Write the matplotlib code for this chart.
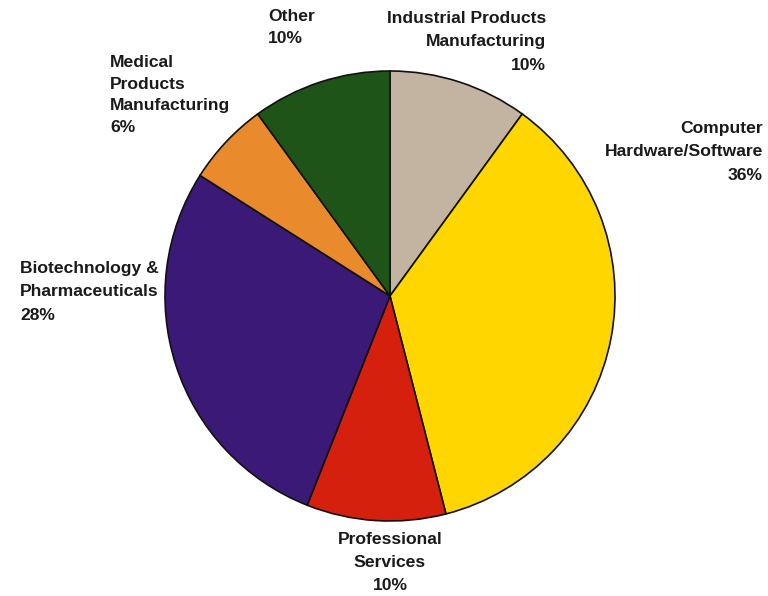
#!/usr/bin/env python3
# Pie chart: share by industry sector

import matplotlib
matplotlib.use("Agg")
import matplotlib.pyplot as plt

sectors = [
    "Industrial Products\nManufacturing",
    "Computer\nHardware/Software",
    "Professional\nServices",
    "Biotechnology &\nPharmaceuticals",
    "Medical\nProducts\nManufacturing",
    "Other",
]
shares = [10, 36, 10, 28, 6, 10]
colors = ["#c3b4a2", "#ffd600", "#d6200e", "#3a1a76", "#e98a2c", "#1f5418"]

# label anchor in pixels (x, top y), alignment, line spacing
label_pos = [
    (546, 11, "right", 1.7),
    (763, 121, "right", 1.7),
    (390, 532, "center", 1.65),
    (20, 261, "left", 1.7),
    (110, 55, "left", 1.55),
    (268, 9, "left", 1.6),
]

W, H = 768, 596
cx, cy, r = 390, 296, 225

plt.rcParams["font.family"] = ["Liberation Sans", "DejaVu Sans"]

fig = plt.figure(figsize=(W / 100, H / 100), dpi=100)
ax = fig.add_axes([0, 0, 1, 1])

ax.pie(
    shares,
    colors=colors,
    startangle=90,
    counterclock=False,
    radius=1,
    center=(0, 0),
    wedgeprops=dict(edgecolor="#111111", linewidth=1.2),
    frame=True,
)
ax.set_xlim(-cx / r, (W - cx) / r)
ax.set_ylim(-(H - cy) / r, cy / r)
ax.set_aspect("equal")
ax.axis("off")

for name, val, (px, py, ha, ls) in zip(sectors, shares, label_pos):
    fig.text(
        px / W, 1 - py / H,
        f"{name}\n{val}%",
        ha=ha, va="top", multialignment=ha,
        fontsize=12.6, fontweight="bold", color="#1a1a1a",
        linespacing=ls,
    )

plt.savefig("out.png", dpi=100)
plt.close()
